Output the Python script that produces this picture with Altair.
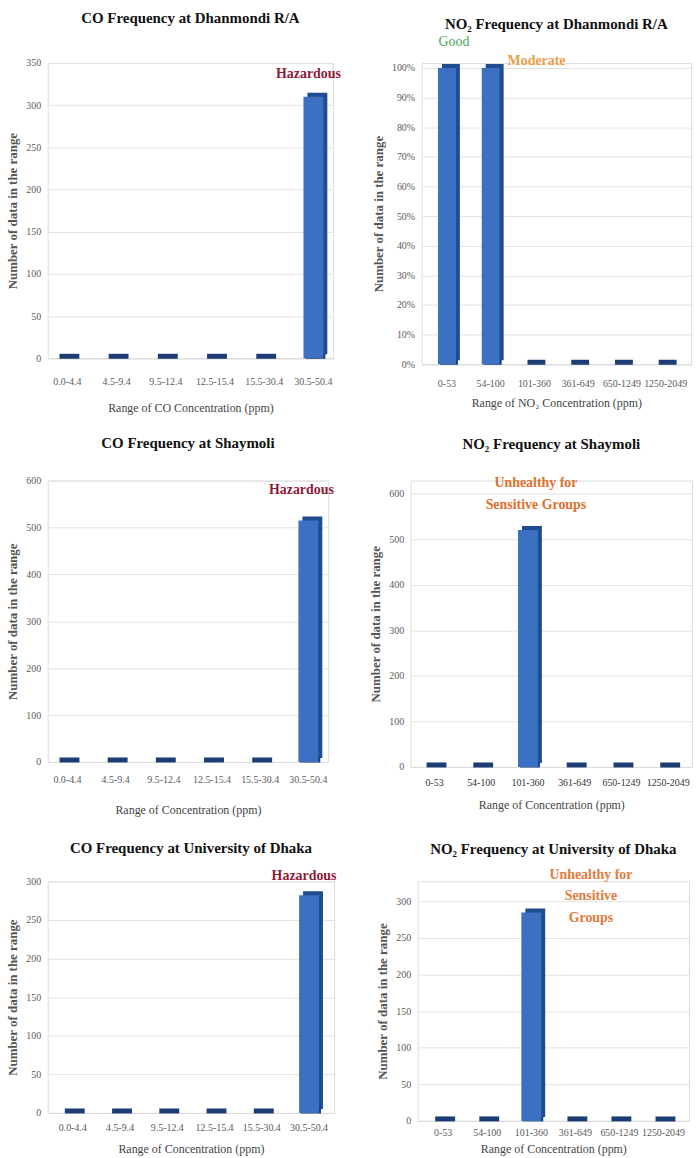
import altair as alt
import pandas as pd

# Concentration bins
co_ranges = ["0.0-4.4", "4.5-9.4", "9.5-12.4", "12.5-15.4", "15.5-30.4", "30.5-50.4"]
no2_ranges = ["0-53", "54-100", "101-360", "361-649", "650-1249", "1250-2049"]

# Counts of observations per bin at each station
co_dhanmondi = [0, 0, 0, 0, 0, 310]
no2_dhanmondi_pct = [100, 100, 0, 0, 0, 0]
co_shaymoli = [0, 0, 0, 0, 0, 515]
no2_shaymoli = [0, 0, 520, 0, 0, 0]
co_du = [0, 0, 0, 0, 0, 282]
no2_du = [0, 0, 285, 0, 0, 0]

FONT = "Liberation Serif"
FRONT = "#3b70c2"
SIDE = "#1f4b8f"
SLAB = "#1c3d74"
GRID = "#e2e2e2"
LABEL = "#5a5a5a"
YTITLE = "Number of data in the range"


def panel(title, ranges, values, tick_max, ystep, dom_max, xtitle, width, height,
          outer, title_offset, label_pad, title_pad, notes, pct=False, bar=20,
          label_color=LABEL):
    df = pd.DataFrame({"range": ranges, "count": values, "floor": [0] * len(ranges)})
    xenc = alt.X(
        "range:N", sort=ranges, title=xtitle,
        scale=alt.Scale(paddingInner=0.5, paddingOuter=outer),
        axis=alt.Axis(labelAngle=0, ticks=False, domain=True, domainColor="#dcdcdc",
                      labelPadding=label_pad, labelFont=FONT, labelFontSize=10,
                      labelColor=label_color, titleFont=FONT, titleFontWeight="normal",
                      titleFontSize=12, titleColor="#444444", titlePadding=title_pad,
                      grid=False),
    )
    yaxis = alt.Axis(
        values=list(range(0, tick_max + 1, ystep)), ticks=False, domain=False,
        grid=True, gridColor=GRID, labelFont=FONT, labelFontSize=10,
        labelColor=LABEL, labelPadding=7, titleFont=FONT, titleFontWeight="bold",
        titleFontSize=13, titleColor="#555555", titlePadding=6,
        labelExpr="datum.value + '%'" if pct else "datum.label",
    )
    yscale = alt.Scale(domain=[0, dom_max], nice=False)
    yenc = alt.Y("count:Q", scale=yscale, axis=yaxis, title=YTITLE)

    base = alt.Chart(df)
    # extruded side / top face, floor slab, then the front face of each bar
    side = base.mark_bar(size=bar, color=SIDE, opacity=1, xOffset=4, yOffset=-4).encode(x=xenc, y=yenc)
    slab = base.mark_tick(size=bar, thickness=5, color=SLAB, opacity=1, xOffset=2, yOffset=-2).encode(
        x=xenc, y=alt.Y("floor:Q", scale=yscale, axis=yaxis, title=YTITLE))
    front = base.mark_bar(size=bar, color=FRONT, opacity=1).encode(x=xenc, y=yenc)
    layers = [side, slab, front]

    for text, cat, color, weight, align, baseline, dx, dy in notes:
        ndf = pd.DataFrame({"range": [cat], "count": [values[ranges.index(cat)]], "note": [text]})
        layers.append(
            alt.Chart(ndf).mark_text(
                font=FONT, fontSize=14, fontWeight=weight, color=color, align=align,
                baseline=baseline, dx=dx, dy=dy, lineBreak="\n", lineHeight=22,
            ).encode(x=xenc, y=yenc, text="note:N")
        )

    return alt.layer(*layers).properties(
        width=width, height=height,
        title=alt.TitleParams(title, font=FONT, fontSize=15, fontWeight="bold",
                              color="#111111", offset=title_offset),
    )


HAZ = "#8e1b36"
ORANGE = "#e0702e"

p1 = panel("CO Frequency at Dhanmondi R/A", co_ranges, co_dhanmondi, 350, 50, 350,
           "Range of CO Concentration (ppm)", 287, 297, 0.15, 32, 18, 17,
           [("Hazardous", "30.5-50.4", HAZ, "bold", "center", "bottom", -5, -16)])
p2 = panel("NO₂ Frequency at Dhanmondi R/A", no2_ranges, no2_dhanmondi_pct, 100, 10, 101.7,
           "Range of NO₂ Concentration (ppm)", 271, 303, 0.33, 3, 14, 10,
           [("Good", "0-53", "#4aa856", "normal", "center", "bottom", 7, -19),
            ("Moderate", "54-100", "#e9a048", "bold", "left", "middle", 17, -7)],
           pct=True, bar=18)
p3 = panel("CO Frequency at Shaymoli", co_ranges, co_shaymoli, 600, 100, 600,
           "Range of Concentration (ppm)", 282, 283, 0.16, 25, 13, 20,
           [("Hazardous", "30.5-50.4", HAZ, "bold", "center", "bottom", -7, -24)])
p4 = panel("NO₂ Frequency at Shaymoli", no2_ranges, no2_shaymoli, 600, 100, 628.7,
           "Range of Concentration (ppm)", 283, 288, 0.26, 25, 11, 12,
           [("Unhealthy for\nSensitive Groups", "101-360", ORANGE, "bold", "center", "bottom", 8, -40)],
           label_color="#333333")
p5 = panel("CO Frequency at University of Dhaka", co_ranges, co_du, 300, 50, 300,
           "Range of Concentration (ppm)", 288, 233, 0.28, 13, 10, 11,
           [("Hazardous", "30.5-50.4", HAZ, "bold", "center", "bottom", -5, -12)])
p6 = panel("NO₂ Frequency at University of Dhaka", no2_ranges, no2_du, 300, 50, 327.5,
           "Range of Concentration (ppm)", 273, 241, 0.33, 11, 7, 6,
           [("Unhealthy for\nSensitive\nGroups", "101-360", "#e27b3c", "bold", "center", "middle", 60, -38)])

row1 = alt.hconcat(p1, p2, spacing=30)
row2 = alt.hconcat(p3, p4, spacing=34)
row3 = alt.hconcat(p5, p6, spacing=39)

upper = alt.vconcat(row1, row2, spacing=20)
chart = alt.vconcat(upper, row3, spacing=24).configure_view(stroke=None).configure(
    background="white", padding={"left": 6, "top": 7, "right": 6, "bottom": 2}
)

chart.save("out.html", embed_options={"renderer": "svg", "actions": False})
